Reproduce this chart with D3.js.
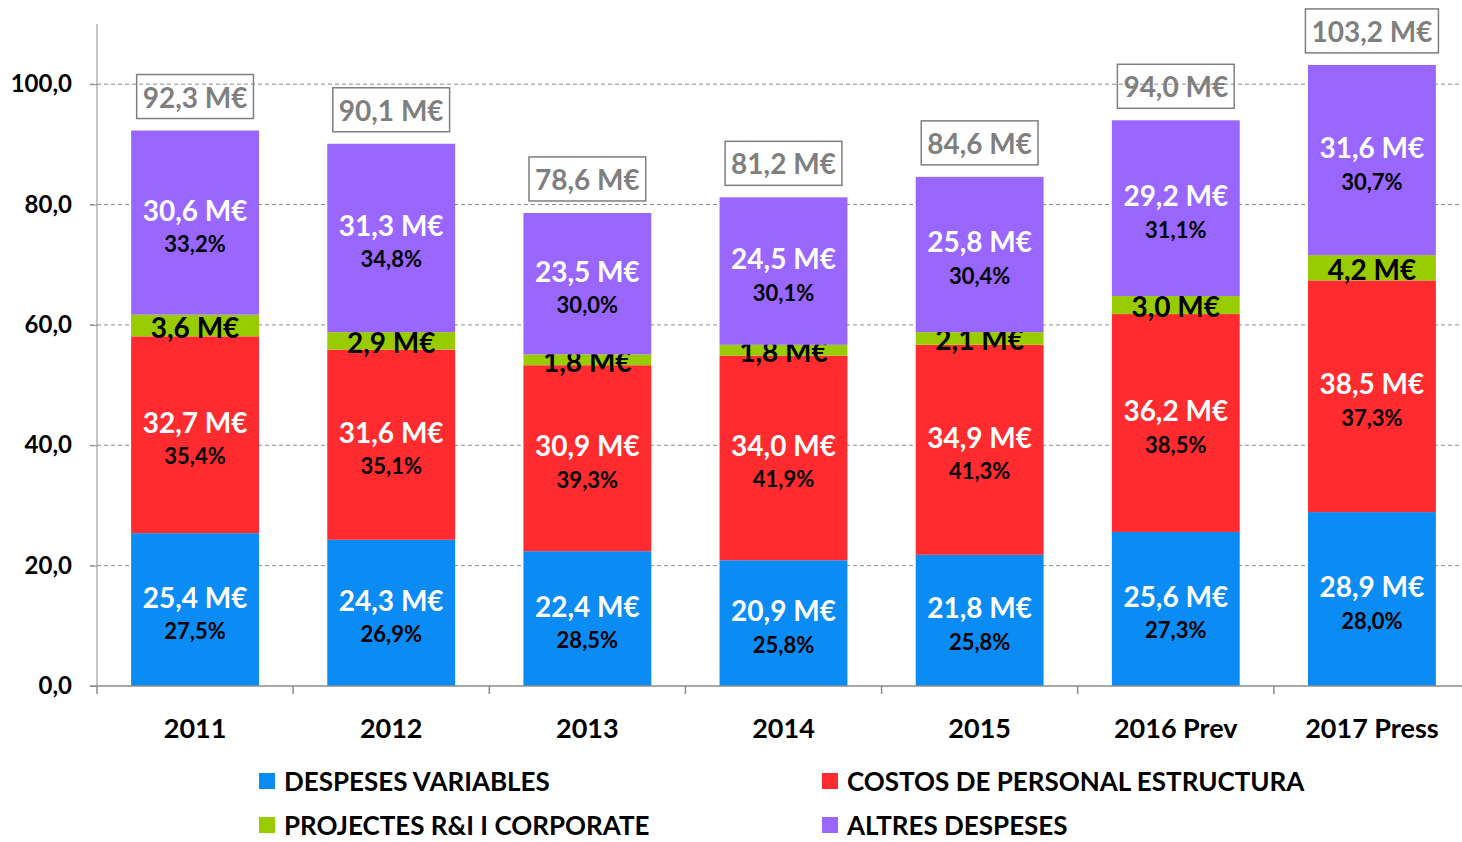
<!DOCTYPE html>
<html>
<head>
<meta charset="utf-8">
<script src="https://cdn.jsdelivr.net/npm/d3@7"></script>
<style>
  body { margin: 0; background: #fff; }
  svg { display: block; font-family: Lato, 'Open Sans', sans-serif; font-weight: bold; }
</style>
</head>
<body>
<div class="container"></div>
<script>
const years = ['2011', '2012', '2013', '2014', '2015', '2016 Prev', '2017 Press'];
const variables = [25.4, 24.3, 22.4, 20.9, 21.8, 25.6, 28.9];
const personal = [32.7, 31.6, 30.9, 34.0, 34.9, 36.2, 38.5];
const projectes = [3.6, 2.9, 1.8, 1.8, 2.1, 3.0, 4.2];
const altres = [30.6, 31.3, 23.5, 24.5, 25.8, 29.2, 31.6];
const totals = [92.3, 90.1, 78.6, 81.2, 84.6, 94.0, 103.2];
const pctVariables = [27.5, 26.9, 28.5, 25.8, 25.8, 27.3, 28.0];
const pctPersonal = [35.4, 35.1, 39.3, 41.9, 41.3, 38.5, 37.3];
const pctAltres = [33.2, 34.8, 30.0, 30.1, 30.4, 31.1, 30.7];
const yTicks = [0, 20, 40, 60, 80, 100];

const series = [
  { name: 'DESPESES VARIABLES', values: variables, pct: pctVariables, color: '#0b8cf5', text: '#fff' },
  { name: 'COSTOS DE PERSONAL ESTRUCTURA', values: personal, pct: pctPersonal, color: '#ff2b2e', text: '#fff' },
  { name: 'PROJECTES R&I I CORPORATE', values: projectes, pct: null, color: '#99cc00', text: '#000' },
  { name: 'ALTRES DESPESES', values: altres, pct: pctAltres, color: '#9966ff', text: '#fff' }
];

const width = 1462;
const height = 842;
const fmt = v => v.toFixed(1).replace('.', ',');

const svg = d3
  .select('.container')
  .append('svg')
  .attr('width', width)
  .attr('height', height);

const x = d3.scaleBand().domain(years).range([97, 1470]).padding(0);
const y = d3.scaleLinear().domain([0, 110]).range([686, 24]);
const barW = x.bandwidth() * 0.652;

// grid
svg
  .append('g')
  .selectAll('line')
  .data(yTicks.filter(d => d > 0))
  .enter()
  .append('line')
  .attr('x1', 90)
  .attr('x2', width)
  .attr('y1', d => y(d))
  .attr('y2', d => y(d))
  .attr('stroke', '#8c8c8c')
  .attr('stroke-width', 1)
  .attr('stroke-dasharray', '4,3');

// stacked data
const rows = years.map((yr, i) => {
  const r = { year: yr };
  series.forEach(s => (r[s.name] = s.values[i]));
  return r;
});
const stack = d3.stack().keys(series.map(s => s.name))(rows);

const bars = svg.append('g');
stack.forEach((layer, si) => {
  const s = series[si];
  const g = bars.append('g');
  g.selectAll('rect')
    .data(layer)
    .enter()
    .append('rect')
    .attr('x', d => x(d.data.year) + (x.bandwidth() - barW) / 2)
    .attr('width', barW)
    .attr('y', d => y(d[1]))
    .attr('height', d => y(d[0]) - y(d[1]))
    .attr('fill', s.color);

  layer.forEach((d, i) => {
    const cx = x(d.data.year) + x.bandwidth() / 2;
    const cy = (y(d[0]) + y(d[1])) / 2;
    if (s.pct) {
      g.append('text')
        .attr('x', cx)
        .attr('y', cy - 13)
        .attr('text-anchor', 'middle')
        .attr('dominant-baseline', 'central')
        .attr('fill', s.text)
        .style('font-size', '28px')
        .text(fmt(s.values[i]) + ' M€');
      g.append('text')
        .attr('x', cx)
        .attr('y', cy + 21)
        .attr('text-anchor', 'middle')
        .attr('dominant-baseline', 'central')
        .attr('fill', '#000')
        .style('font-size', '22px')
        .text(fmt(s.pct[i]) + '%');
    } else {
      g.append('text')
        .attr('x', cx)
        .attr('y', cy + 1)
        .attr('text-anchor', 'middle')
        .attr('dominant-baseline', 'central')
        .attr('fill', '#000')
        .style('font-size', '28px')
        .text(fmt(s.values[i]) + ' M€');
    }
  });
});

// total boxes
const tot = svg.append('g');
years.forEach((yr, i) => {
  const cx = x(yr) + x.bandwidth() / 2;
  const bottom = y(totals[i]) - 12;
  const label = tot
    .append('text')
    .attr('x', cx)
    .attr('y', bottom - 22)
    .attr('text-anchor', 'middle')
    .attr('dominant-baseline', 'central')
    .attr('fill', '#7f7f7f')
    .style('font-size', '28px')
    .text(fmt(totals[i]) + ' M€');
  const bb = label.node().getBBox();
  const w = bb.width + 12;
  tot
    .append('rect')
    .attr('x', cx - w / 2)
    .attr('y', bottom - 44)
    .attr('width', w)
    .attr('height', 44)
    .attr('fill', 'none')
    .attr('stroke', '#7f7f7f')
    .attr('stroke-width', 1.5);
});

// y axis
const yAxis = svg
  .append('g')
  .attr('transform', 'translate(97,0)')
  .call(d3.axisLeft(y).tickValues(yTicks).tickSize(7).tickFormat(fmt));
yAxis.select('.domain').attr('stroke', '#8c8c8c').attr('d', `M0,${y(110)}V${y(0)}`);
yAxis.selectAll('.tick line').attr('stroke', '#8c8c8c');
yAxis
  .selectAll('.tick text')
  .attr('x', -25)
  .style('font-family', 'Lato, sans-serif')
  .style('font-size', '24px')
  .style('font-weight', 'bold')
  .attr('fill', '#000');

// x axis
svg
  .append('line')
  .attr('x1', 90)
  .attr('x2', width)
  .attr('y1', y(0))
  .attr('y2', y(0))
  .attr('stroke', '#8c8c8c')
  .attr('stroke-width', 1.5);
svg
  .append('g')
  .selectAll('line')
  .data(years)
  .enter()
  .append('line')
  .attr('x1', d => x(d))
  .attr('x2', d => x(d))
  .attr('y1', y(0))
  .attr('y2', y(0) + 8)
  .attr('stroke', '#8c8c8c')
  .attr('stroke-width', 1.5);
svg
  .append('g')
  .selectAll('text')
  .data(years)
  .enter()
  .append('text')
  .attr('x', d => x(d) + x.bandwidth() / 2)
  .attr('y', 727)
  .attr('text-anchor', 'middle')
  .attr('dominant-baseline', 'central')
  .style('font-size', '27px')
  .text(d => d);

// legend
const legendPos = [
  [259, 781],
  [822, 781],
  [259, 825],
  [822, 825]
];
const legend = svg
  .append('g')
  .selectAll('g')
  .data(series)
  .enter()
  .append('g')
  .attr('transform', (d, i) => `translate(${legendPos[i][0]},${legendPos[i][1]})`);
legend
  .append('rect')
  .attr('x', 0)
  .attr('y', -8)
  .attr('width', 16)
  .attr('height', 16)
  .attr('fill', d => d.color);
legend
  .append('text')
  .attr('x', 25)
  .attr('y', 0)
  .attr('dominant-baseline', 'central')
  .style('font-size', '26px')
  .text(d => d.name);
</script>
</body>
</html>
